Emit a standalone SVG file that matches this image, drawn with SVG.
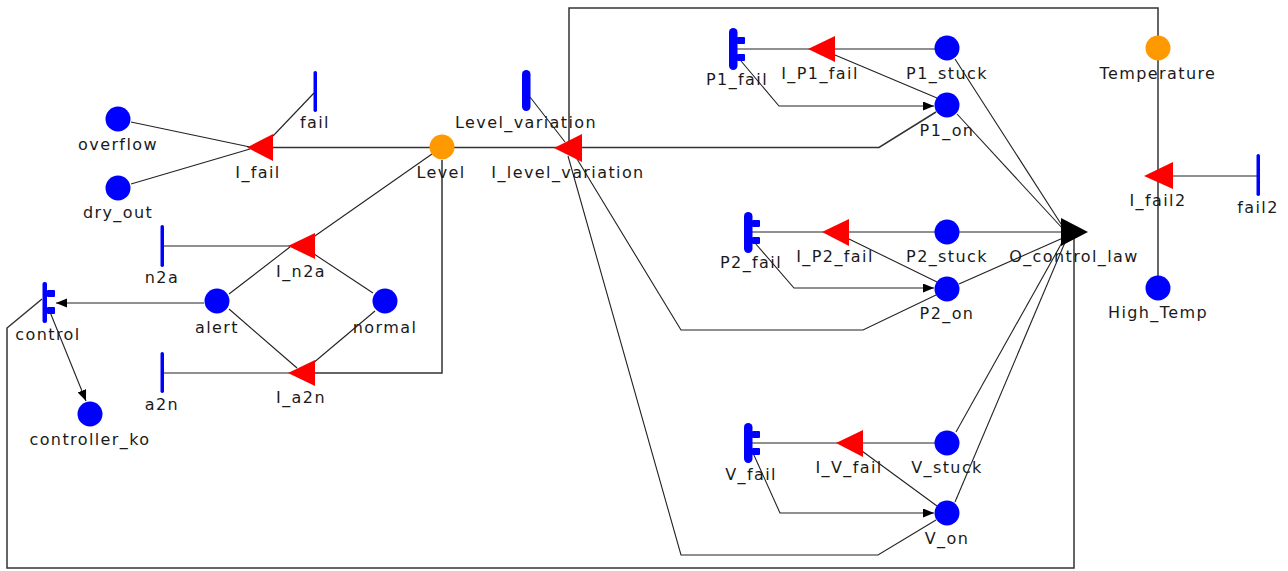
<svg xmlns="http://www.w3.org/2000/svg" width="1288" height="571" viewBox="0 0 1288 571">
<defs>
<marker id="arr" markerUnits="userSpaceOnUse" markerWidth="12" markerHeight="10" refX="11" refY="4.5" orient="auto">
<path d="M0,0 L11,4.5 L0,9 z" fill="#000"/>
</marker>
<style>
text{font-family:"DejaVu Sans","Liberation Sans",sans-serif;font-size:16px;fill:#1a1a1a;text-anchor:middle;letter-spacing:1.4px}
.c{fill:none;stroke:#222;stroke-width:1.1}
.loop{fill:none;stroke:#333;stroke-width:1.5}
.pl{fill:#0000ff}
.st{fill:#ff9900}
.tr{fill:#ff0000}
.ev{fill:#0000ff}
</style>
</defs>
<rect width="1288" height="571" fill="#fff"/>
<g id="connectors">
<polyline class="loop" points="569,148 569,8 1158,8 1158,36"/>
<line class="loop" x1="1158" y1="60" x2="1158" y2="276"/>
<polyline class="loop" points="42,299 7,328 7,568 1074,568 1074,238"/>
<line class="c" x1="1173" y1="176" x2="1257" y2="176"/>
<line class="c" x1="131" y1="122" x2="250" y2="147"/>
<line class="c" x1="131" y1="184" x2="250" y2="149"/>
<line class="c" x1="314" y1="93" x2="273" y2="136"/>
<line class="loop" x1="260" y1="147.5" x2="430" y2="147.5"/>
<line class="loop" x1="454" y1="147.5" x2="560" y2="147.5"/>
<polyline class="loop" points="575,147.5 879,147.5 936,112"/>
<line class="c" x1="432" y1="154" x2="312" y2="238"/>
<polyline class="loop" points="442,160 442,373 300,373"/>
<line class="c" x1="163" y1="246" x2="292" y2="246"/>
<line class="c" x1="163" y1="373" x2="292" y2="373"/>
<line class="c" x1="229" y1="294" x2="290" y2="247"/>
<line class="c" x1="373" y1="293" x2="311" y2="252"/>
<line class="c" x1="229" y1="309" x2="297" y2="368"/>
<line class="c" x1="375" y1="311" x2="312" y2="364"/>
<line class="c" x1="204" y1="303" x2="56" y2="303" marker-end="url(#arr)"/>
<line class="c" x1="50" y1="312" x2="86" y2="401" marker-end="url(#arr)"/>
<line class="c" x1="530" y1="97" x2="565" y2="142"/>
<polyline class="c" points="574,154 681,330 863,330 936,295"/>
<polyline class="c" points="568,156 681,555 878,555 936,520"/>
<polyline class="c" points="741,61 779,106 934,106" marker-end="url(#arr)"/>
<line class="c" x1="737" y1="49" x2="935" y2="49"/>
<line class="c" x1="937" y1="98" x2="835" y2="55"/>
<line class="c" x1="955" y1="59" x2="1063" y2="227"/>
<line class="c" x1="957" y1="114" x2="1063" y2="229"/>
<polyline class="c" points="755,243 794,288 934,288" marker-end="url(#arr)"/>
<line class="c" x1="752" y1="232" x2="1062" y2="232"/>
<line class="c" x1="937" y1="282" x2="849" y2="239"/>
<line class="c" x1="959" y1="284" x2="1063" y2="238"/>
<polyline class="c" points="753,453 780,513 934,513" marker-end="url(#arr)"/>
<line class="c" x1="752" y1="443" x2="935" y2="443"/>
<line class="c" x1="937" y1="506" x2="862" y2="451"/>
<line class="c" x1="956" y1="432" x2="1064" y2="239"/>
<line class="c" x1="955" y1="502" x2="1066" y2="240"/>
</g>
<g id="overflow"><circle class="pl" cx="118" cy="119" r="12.5"/><text x="118" y="150">overflow</text></g>
<g id="dry_out"><circle class="pl" cx="118" cy="188" r="12.5"/><text x="118" y="218">dry_out</text></g>
<g id="fail"><rect class="ev" x="313.5" y="71" width="3.5" height="41" rx="1.7"/><text x="315" y="128">fail</text></g>
<g id="I_fail"><polygon class="tr" points="247,147.5 273,134 273,161"/><text x="258" y="178">I_fail</text></g>
<g id="Level"><circle class="st" cx="442" cy="147" r="12.5"/><text x="441" y="178">Level</text></g>
<g id="n2a"><rect class="ev" x="160.5" y="225" width="3.5" height="42" rx="1.7"/><text x="162" y="283">n2a</text></g>
<g id="a2n"><rect class="ev" x="160.5" y="352" width="3.5" height="41" rx="1.7"/><text x="162" y="410">a2n</text></g>
<g id="I_n2a"><polygon class="tr" points="288,246 315,233 315,259"/><text x="301" y="277">I_n2a</text></g>
<g id="I_a2n"><polygon class="tr" points="288,373 315,360 315,386"/><text x="301" y="403">I_a2n</text></g>
<g id="alert"><circle class="pl" cx="217" cy="301" r="12.5"/><text x="217" y="333">alert</text></g>
<g id="normal"><circle class="pl" cx="385" cy="301" r="12.5"/><text x="385" y="333">normal</text></g>
<g id="control"><rect class="ev" x="42.5" y="282" width="4.5" height="41" rx="2"/><rect class="ev" x="47" y="290" width="8" height="7" rx="1"/><rect class="ev" x="47" y="307" width="8" height="7" rx="1"/><text x="48" y="340">control</text></g>
<g id="controller_ko"><circle class="pl" cx="90" cy="414" r="12.5"/><text x="90" y="445">controller_ko</text></g>
<g id="Level_variation"><rect class="ev" x="522" y="70" width="8.5" height="41" rx="4.2"/><text x="526" y="128">Level_variation</text></g>
<g id="I_level_variation"><polygon class="tr" points="554,148 582,134 582,162"/><text x="568" y="178">I_level_variation</text></g>
<g id="P1_fail"><rect class="ev" x="729" y="28" width="8.5" height="42" rx="4.2"/><rect class="ev" x="737" y="37" width="8" height="7" rx="1"/><rect class="ev" x="737" y="54" width="8" height="7" rx="1"/><text x="737" y="85">P1_fail</text></g>
<g id="I_P1_fail"><polygon class="tr" points="808,49 835,36 835,62"/><text x="820" y="79">I_P1_fail</text></g>
<g id="P1_stuck"><circle class="pl" cx="947" cy="48" r="12.5"/><text x="947" y="79">P1_stuck</text></g>
<g id="P1_on"><circle class="pl" cx="947" cy="105" r="12.5"/><text x="947" y="136">P1_on</text></g>
<g id="P2_fail"><rect class="ev" x="744" y="212" width="8.5" height="41" rx="4.2"/><rect class="ev" x="752" y="220" width="8" height="7" rx="1"/><rect class="ev" x="752" y="237" width="8" height="7" rx="1"/><text x="751" y="268">P2_fail</text></g>
<g id="I_P2_fail"><polygon class="tr" points="822,232 849,219 849,246"/><text x="835" y="262">I_P2_fail</text></g>
<g id="P2_stuck"><circle class="pl" cx="947" cy="232" r="12.5"/><text x="947" y="262">P2_stuck</text></g>
<g id="P2_on"><circle class="pl" cx="947" cy="289" r="12.5"/><text x="947" y="319">P2_on</text></g>
<g id="O_control_law"><polygon fill="#000" points="1061,218 1088,232 1061,246"/><text x="1074" y="262">O_control_law</text></g>
<g id="V_fail"><rect class="ev" x="744" y="423" width="8.5" height="40" rx="4.2"/><rect class="ev" x="752" y="431" width="8" height="7" rx="1"/><rect class="ev" x="752" y="448" width="8" height="7" rx="1"/><text x="751" y="480">V_fail</text></g>
<g id="I_V_fail"><polygon class="tr" points="836,443 863,430 863,457"/><text x="849" y="473">I_V_fail</text></g>
<g id="V_stuck"><circle class="pl" cx="947" cy="443" r="12.5"/><text x="947" y="473">V_stuck</text></g>
<g id="V_on"><circle class="pl" cx="947" cy="513" r="12.5"/><text x="947" y="544">V_on</text></g>
<g id="Temperature"><circle class="st" cx="1158" cy="48" r="12.5"/><text x="1158" y="79">Temperature</text></g>
<g id="I_fail2"><polygon class="tr" points="1144,176 1173,162 1173,189"/><text x="1158" y="206">I_fail2</text></g>
<g id="fail2"><rect class="ev" x="1256.5" y="154" width="3.5" height="42" rx="1.7"/><text x="1258" y="213">fail2</text></g>
<g id="High_Temp"><circle class="pl" cx="1158" cy="288" r="12.5"/><text x="1158" y="318">High_Temp</text></g>
</svg>
